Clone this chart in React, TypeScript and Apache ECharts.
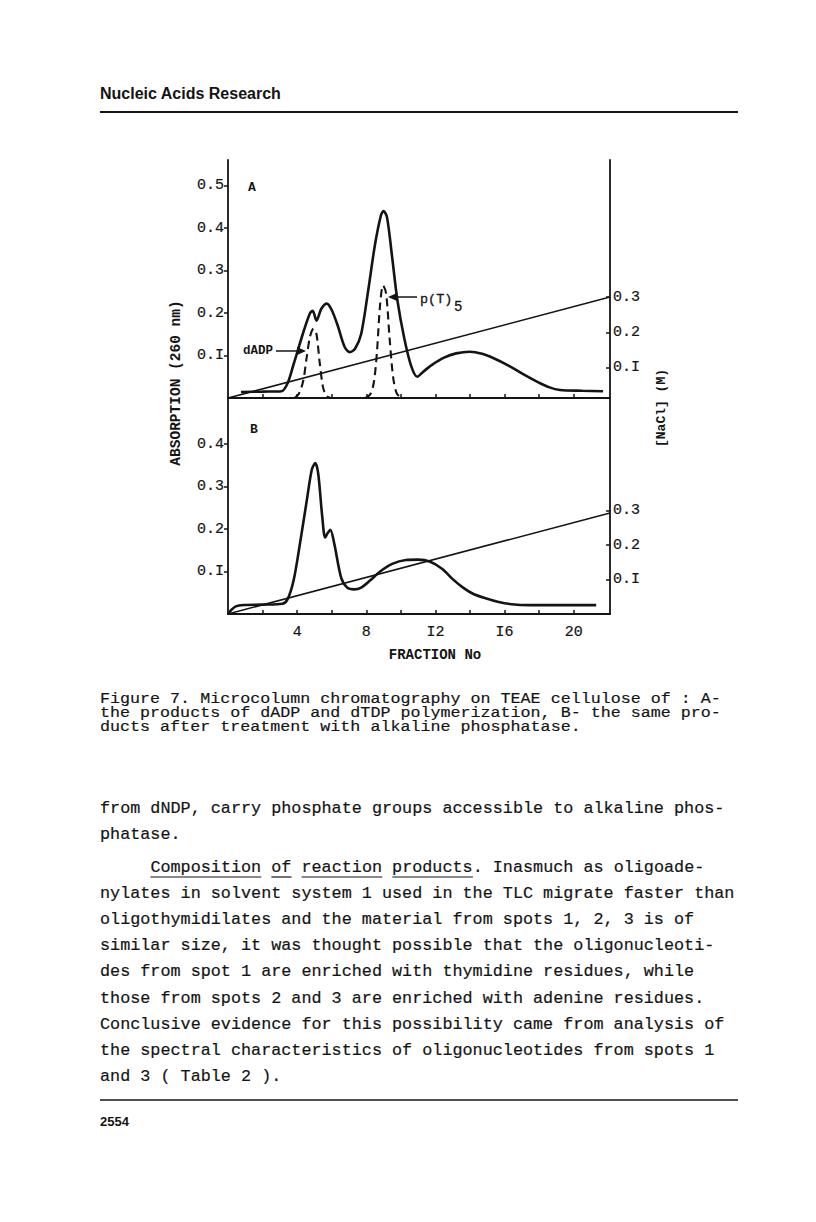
import React, { useEffect, useRef } from "react";
import * as echarts from "echarts";

// ---------- data ----------
const fractionTicks = [2, 4, 6, 8, 10, 12, 14, 16, 18, 20];
const fractionLabels = [4, 8, 12, 16, 20];
const absTicksA = [0.1, 0.2, 0.3, 0.4, 0.5];
const absTicksB = [0.1, 0.2, 0.3, 0.4];
const naclTicks = [0.1, 0.2, 0.3];

// Panel A: absorption (solid)
const absA: [number, number][] = [
  [0.75, 0.014], [2.0, 0.015], [3.1, 0.016], [3.45, 0.035], [3.8, 0.08], [4.4, 0.16],
  [4.75, 0.2], [4.9, 0.205], [5.12, 0.182], [5.4, 0.21], [5.72, 0.222], [6.0, 0.207],
  [6.35, 0.17], [6.75, 0.12], [7.05, 0.108], [7.35, 0.116], [7.7, 0.15], [8.1, 0.25],
  [8.5, 0.36], [8.85, 0.43], [9.0, 0.44], [9.2, 0.425], [9.5, 0.33], [9.8, 0.23],
  [10.2, 0.14], [10.6, 0.075], [10.95, 0.05], [11.3, 0.062], [11.8, 0.078], [12.5, 0.095],
  [13.2, 0.105], [14.0, 0.109], [14.7, 0.104], [15.4, 0.093], [16.2, 0.077], [17.0, 0.058],
  [17.9, 0.038], [18.6, 0.025], [19.2, 0.019], [20.5, 0.017], [21.7, 0.016],
];
// Panel A: dADP marker (dashed)
const dadpA: [number, number][] = [
  [3.85, 0], [4.1, 0.01], [4.35, 0.04], [4.55, 0.095], [4.75, 0.145], [4.95, 0.163],
  [5.12, 0.15], [5.3, 0.085], [5.5, 0.025], [5.7, 0.005], [5.95, 0],
];
// Panel A: p(T)5 marker (dashed)
const pt5A: [number, number][] = [
  [7.95, 0], [8.25, 0.01], [8.45, 0.04], [8.62, 0.11], [8.8, 0.22], [8.97, 0.265],
  [9.15, 0.245], [9.35, 0.14], [9.55, 0.05], [9.75, 0.012], [10.0, 0],
];
// NaCl gradient (M)
const gradientA: [number, number][] = [[0, 0.015], [22.1, 0.3]];
const gradientB: [number, number][] = [[0, 0], [22.1, 0.293]];

// Panel B: absorption after phosphatase
const absB: [number, number][] = [
  [0, 0], [0.2, 0.01], [0.45, 0.018], [0.9, 0.021], [2.0, 0.022], [3.15, 0.024],
  [3.45, 0.035], [3.8, 0.08], [4.2, 0.175], [4.55, 0.265], [4.85, 0.34], [5.05, 0.355],
  [5.22, 0.33], [5.45, 0.23], [5.62, 0.18], [5.76, 0.19], [5.92, 0.198], [6.15, 0.165],
  [6.55, 0.085], [6.9, 0.062], [7.3, 0.058], [7.7, 0.062], [8.2, 0.078], [8.8, 0.1],
  [9.5, 0.118], [10.3, 0.127], [11.0, 0.128], [11.7, 0.123], [12.4, 0.106], [13.0, 0.082],
  [13.6, 0.062], [14.2, 0.047], [14.9, 0.037], [15.6, 0.029], [16.4, 0.023], [17.5, 0.021],
  [21.3, 0.021],
];

// ---------- page text ----------
const headerText = "Nucleic Acids Research";
const pageNumber = "2554";
const captionLines = [
  "Figure 7. Microcolumn chromatography on TEAE cellulose of : A-",
  "the products of dADP and dTDP polymerization, B- the same pro-",
  "ducts after treatment with alkaline phosphatase.",
];
const para1Lines = [
  "from dNDP, carry phosphate groups accessible to alkaline phos-",
  "phatase.",
];
const para2Lines = [
  "Composition of reaction products. Inasmuch as oligoade-",
  "nylates in solvent system 1 used in the TLC migrate faster than",
  "oligothymidilates and the material from spots 1, 2, 3 is of",
  "similar size, it was thought possible that the oligonucleoti-",
  "des from spot 1 are enriched with thymidine residues, while",
  "those from spots 2 and 3 are enriched with adenine residues.",
  "Conclusive evidence for this possibility came from analysis of",
  "the spectral characteristics of oligonucleotides from spots 1",
  "and 3 ( Table 2 ).",
];
const underlinedWords = ["Composition", "of", "reaction", "products"];

const MONO = '"Liberation Mono", "DejaVu Sans Mono", monospace';
const SANS = '"Liberation Sans", Arial, sans-serif';
const INK = "#141414";

const fmt = (v: number) => String(Math.round(v * 10) / 10).replace(/1/g, "I");

export default function App() {
  const ref = useRef<HTMLDivElement>(null);

  useEffect(() => {
    if (!ref.current) return;
    const chart = echarts.init(ref.current, null, { renderer: "svg" });

    const txt = (text: string, x: number, y: number, o: any = {}) => ({
      type: "text",
      x,
      y,
      rotation: o.rotation || 0,
      scaleY: o.scaleY || 1,
      silent: true,
      style: {
        text,
        fill: INK,
        stroke: o.heavy ? INK : undefined,
        lineWidth: o.heavy ? o.heavy : 0,
        fontFamily: o.family || MONO,
        fontSize: o.size || 16.7,
        fontWeight: o.weight || "normal",
        align: o.align || "left",
        verticalAlign: o.va || "middle",
      },
    });

    const bodySize = 16.8;
    const cw = bodySize * 0.6;
    const graphics: any[] = [];

    // header & rules
    graphics.push(txt(headerText, 100, 93, { family: SANS, size: 16, weight: "bold" }));
    graphics.push({ type: "line", silent: true, shape: { x1: 100, y1: 112, x2: 738, y2: 112 }, style: { stroke: INK, lineWidth: 2 } });
    graphics.push({ type: "line", silent: true, shape: { x1: 100, y1: 1100, x2: 738, y2: 1100 }, style: { stroke: INK, lineWidth: 1.6 } });
    graphics.push(txt(pageNumber, 100, 1121, { family: SANS, size: 13, weight: "bold" }));

    // caption
    captionLines.forEach((l, i) =>
      graphics.push(txt(l, 100, 699 + i * 14.2, { size: 16.7, scaleY: 0.9, heavy: 0.2 }))
    );
    // body
    para1Lines.forEach((l, i) => graphics.push(txt(l, 100, 808 + i * 26.3, { size: bodySize, heavy: 0.2 })));
    const indent = 100 + cw * 5;
    para2Lines.forEach((l, i) =>
      graphics.push(txt(l, i === 0 ? indent : 100, 867 + i * 26.2, { size: bodySize, heavy: 0.2 }))
    );
    // underlines
    let pos = 0;
    underlinedWords.forEach((w) => {
      const start = para2Lines[0].indexOf(w, pos);
      pos = start + w.length;
      graphics.push({
        type: "line",
        silent: true,
        shape: { x1: indent + start * cw, y1: 877, x2: indent + pos * cw, y2: 877 },
        style: { stroke: INK, lineWidth: 1.2 },
      });
    });

    // chart annotations
    graphics.push(txt("A", 248, 187, { size: 13, weight: "bold" }));
    graphics.push(txt("B", 250, 429, { size: 13, weight: "bold" }));
    graphics.push(txt("dADP", 243, 351, { size: 12.5, weight: "bold" }));
    graphics.push({ type: "line", silent: true, shape: { x1: 276, y1: 351, x2: 299, y2: 351 }, style: { stroke: INK, lineWidth: 1.5 } });
    graphics.push({ type: "polygon", silent: true, shape: { points: [[306, 351], [297, 347], [297, 355]] }, style: { fill: INK } });
    graphics.push({ type: "line", silent: true, shape: { x1: 396, y1: 297, x2: 417, y2: 297 }, style: { stroke: INK, lineWidth: 1.5 } });
    graphics.push({ type: "polygon", silent: true, shape: { points: [[388, 297], [397, 293], [397, 301]] }, style: { fill: INK } });
    graphics.push(txt("p(T)", 420, 299, { size: 13.5, heavy: 0.3 }));
    graphics.push(txt("5", 454, 307, { size: 14, heavy: 0.3 }));

    // axis titles
    graphics.push(txt("ABSORPTION (260 nm)", 176, 383, { size: 14.5, weight: "bold", align: "center", rotation: Math.PI / 2 }));
    graphics.push(txt("[NaCl] (M)", 661, 408, { size: 13, weight: "bold", align: "center", rotation: Math.PI / 2 }));
    graphics.push(txt("FRACTION No", 435, 655, { size: 14, weight: "bold", align: "center" }));

    const axisLine = { show: true, onZero: false, lineStyle: { color: INK, width: 1.8 } };
    const labelStyle = { color: INK, fontFamily: MONO, fontSize: 15, textBorderColor: INK, textBorderWidth: 0.2 };

    const xAxisBase = (grid: number, showLabels: boolean) => ({
      type: "value",
      gridIndex: grid,
      min: 0,
      max: 22.1,
      axisLine,
      splitLine: { show: false },
      axisTick: { show: true, inside: true, length: 4, customValues: fractionTicks, lineStyle: { color: INK, width: 1.5 } },
      axisLabel: showLabels
        ? { show: true, customValues: fractionLabels, formatter: fmt, margin: 11, ...labelStyle }
        : { show: false },
    });

    const yLeft = (grid: number, max: number, ticks: number[]) => ({
      type: "value",
      gridIndex: grid,
      position: "left",
      min: 0,
      max,
      axisLine,
      splitLine: { show: false },
      axisTick: { show: true, inside: false, length: 4, customValues: ticks, lineStyle: { color: INK, width: 1.5 } },
      axisLabel: { show: true, customValues: ticks, formatter: fmt, margin: 4, ...labelStyle },
    });

    const yRight = (grid: number, min: number, max: number) => ({
      type: "value",
      gridIndex: grid,
      position: "right",
      min,
      max,
      axisLine,
      splitLine: { show: false },
      axisTick: { show: true, inside: true, length: 4, customValues: naclTicks, lineStyle: { color: INK, width: 1.5 } },
      axisLabel: { show: true, customValues: naclTicks, formatter: fmt, margin: 3, ...labelStyle },
    });

    const line = (data: [number, number][], xi: number, yi: number, width: number, dashed = false, smooth: number = 0.3) => ({
      type: "line",
      xAxisIndex: xi,
      yAxisIndex: yi,
      data,
      smooth,
      symbol: "none",
      silent: true,
      lineStyle: { color: INK, width, type: dashed ? [8, 5] : "solid" },
    });

    chart.setOption({
      animation: false,
      backgroundColor: "#ffffff",
      grid: [
        { left: 228, top: 160, width: 382, height: 238 },
        { left: 228, top: 398, width: 382, height: 216 },
      ],
      xAxis: [xAxisBase(0, false), xAxisBase(1, true)],
      yAxis: [
        yLeft(0, 238 / 425, absTicksA),
        yRight(0, 0.015, 0.687),
        yLeft(1, 216 / 425, absTicksB),
        yRight(1, 0, 216 / 345),
      ],
      series: [
        line(absA, 0, 0, 2.6),
        line(dadpA, 0, 0, 2.1, true),
        line(pt5A, 0, 0, 2.1, true),
        line(gradientA, 0, 1, 1.5, false, 0),
        line(absB, 1, 2, 2.6),
        line(gradientB, 1, 3, 1.5, false, 0),
      ],
      graphic: { elements: graphics },
    });

    return () => chart.dispose();
  }, []);

  return (
    <div
      ref={ref}
      style={{ position: "absolute", left: 0, top: 0, width: 816, height: 1222, background: "#fff" }}
    />
  );
}
